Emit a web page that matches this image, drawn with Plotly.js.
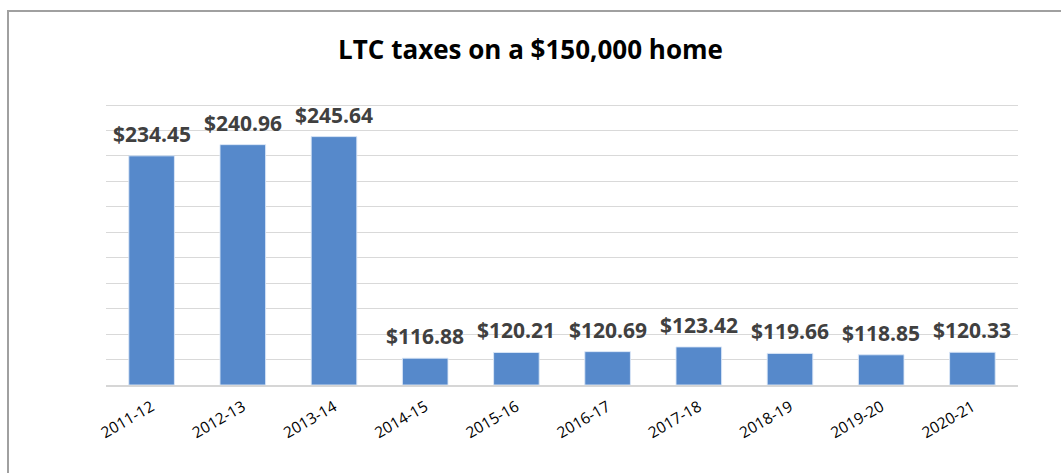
<!DOCTYPE html>
<html>
<head>
<meta charset="utf-8">
<script src="https://cdn.plot.ly/plotly-3.0.1.min.js"></script>
<style>
  html, body { margin: 0; padding: 0; background: #fff; }
  #wrap { position: relative; width: 1061px; height: 473px; overflow: hidden; }
  #chart { position: absolute; left: 0; top: 0; width: 1061px; height: 473px; }
  #frame { position: absolute; left: 7px; top: 10px; width: 1100px; height: 500px;
           border-left: 2px solid #a0a0a0; border-top: 2px solid #a0a0a0; pointer-events: none; }
</style>
</head>
<body>
<div id="wrap">
  <div id="chart"></div>
  <div id="frame"></div>
</div>
<script>
const years = ["2011-12","2012-13","2013-14","2014-15","2015-16","2016-17","2017-18","2018-19","2019-20","2020-21"];
const taxes = [234.45, 240.96, 245.64, 116.88, 120.21, 120.69, 123.42, 119.66, 118.85, 120.33];
const labels = taxes.map(v => "$" + v.toFixed(2));

const yMin = 101.3, yTop = 264.0;
const step = (yTop - yMin) / 11;
const gridVals = Array.from({ length: 12 }, (_, k) => yMin + k * step);
const pxPerUnit = 280 / (yTop - yMin);
const topPad = 4; // px of empty plot above the top gridline

const trace = {
  type: "bar",
  x: years,
  y: taxes.map(v => v - yMin),
  base: yMin,
  marker: { color: "#5689CB", line: { color: "rgba(220,232,247,0.9)", width: 1 } },
  hoverinfo: "skip"
};

const annotations = years.map((c, i) => ({
  x: c, y: taxes[i], xref: "x", yref: "y",
  text: labels[i], showarrow: false, yanchor: "bottom", yshift: 6,
  font: { family: "Open Sans", size: 21, color: "#404040", weight: "bold" }
}));

const layout = {
  width: 1061, height: 473,
  margin: { l: 106, r: 43, t: 105 - topPad, b: 88 },
  paper_bgcolor: "rgba(0,0,0,0)",
  plot_bgcolor: "#fff",
  showlegend: false,
  bargap: 0.5,
  title: {
    text: "<b>LTC taxes on a $150,000 home</b>",
    x: 0.5, xref: "container", xanchor: "center",
    y: 1 - 50 / 473, yref: "container", yanchor: "middle",
    font: { family: "Open Sans", size: 26, color: "#000" }
  },
  xaxis: {
    type: "category",
    tickangle: -30,
    tickfont: { family: "Open Sans", size: 15.5, color: "#000" },
    showline: true, linecolor: "#d6d6d6", linewidth: 2,
    showgrid: false, ticks: "", ticklabelstandoff: 5
  },
  yaxis: {
    range: [yMin, yTop + topPad / pxPerUnit],
    tickmode: "array", tickvals: gridVals,
    showticklabels: false,
    gridcolor: "#d9d9d9", gridwidth: 1,
    zeroline: false, showline: false, ticks: ""
  },
  annotations: annotations
};

Plotly.newPlot("chart", [trace], layout, { displayModeBar: false, staticPlot: true });
</script>
</body>
</html>
